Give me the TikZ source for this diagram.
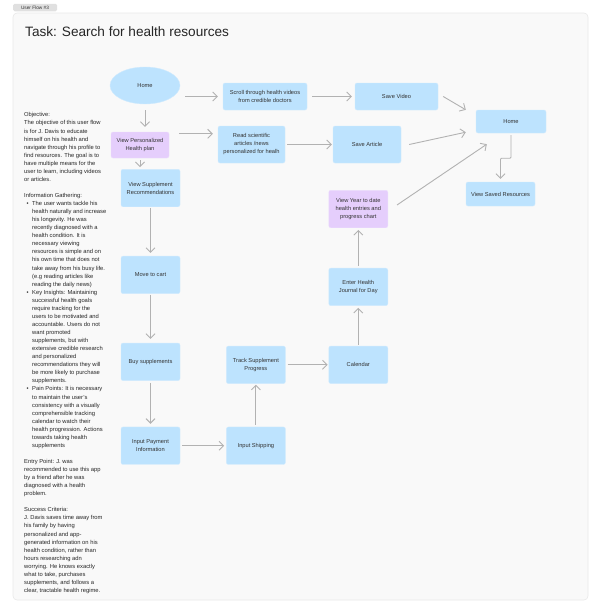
\documentclass[tikz,border=0pt]{standalone}
\usepackage{fontspec}
\setmainfont{Liberation Sans}
\usepackage{xcolor}
\usetikzlibrary{positioning,shapes.geometric,arrows.meta}

\definecolor{boxblue}{RGB}{189,227,254}
\definecolor{boxpurple}{RGB}{229,206,252}
\definecolor{linegray}{RGB}{178,178,178}
\definecolor{panelgray}{RGB}{249,249,249}
\definecolor{paneledge}{RGB}{232,232,232}
\definecolor{textgray}{RGB}{51,51,51}

\newcommand{\bul}{\makebox[8pt][l]{\hspace{2.5pt}•}}
\newcommand{\ind}{\hspace*{8pt}}

\begin{document}
\begin{tikzpicture}[x=1pt, y=-1pt,
    flowbox/.style={fill=boxblue, draw=boxblue!70!white, line width=0.4pt, rounded corners=2pt, inner sep=0pt, minimum width=59pt, minimum height=37.5pt, align=center, text=textgray, font=\fontsize{5.7}{8}\selectfont},
    purplebox/.style={flowbox, fill=boxpurple, draw=boxpurple!70!white},
    link/.style={draw=linegray, line width=0.9pt, -{Straight Barb[length=4.5pt,width=9pt]}}]

    \useasboundingbox (0,0) rectangle (600,613);

    % frame
    \draw [fill=panelgray, draw=paneledge, line width=0.6pt, rounded corners=4pt] (13,13) rectangle (588,600);
    \node (tag) [fill=black!12, rounded corners=1.5pt, inner sep=0pt, minimum width=44pt, minimum height=7.5pt, font=\fontsize{4.75}{5}\selectfont, text=textgray] at (35,7.5) {User Flow \#3};
    \node (title) [anchor=base west, inner sep=0pt, font=\fontsize{13.6}{16}\selectfont, text=black!85] at (25,36) {Task: Search for health resources};

    % notes
    \node (notes) [anchor=north west, inner sep=0pt, align=left, text=black!85, font=\fontsize{5.8}{8.06}\selectfont] at (24,112.5) {Objective:\\
        The objective of this user flow\\
        is for J. Davis to educate\\
        himself on his health and\\
        navigate through his profile to\\
        find resources. The goal is to\\
        have multiple means for the\\
        user to learn, including videos\\
        or articles.\\[8.06pt]
        Information Gathering:\\
        \bul The user wants tackle his\\
        \ind health naturally and increase\\
        \ind his longevity. He was\\
        \ind recently diagnosed with a\\
        \ind health condition. It is\\
        \ind necessary viewing\\
        \ind resources is simple and on\\
        \ind his own time that does not\\
        \ind take away from his busy life.\\
        \ind (e.g reading articles like\\
        \ind reading the daily news)\\
        \bul Key Insights: Maintaining\\
        \ind successful health goals\\
        \ind require tracking for the\\
        \ind users to be motivated and\\
        \ind accountable. Users do not\\
        \ind want promoted\\
        \ind supplements, but with\\
        \ind extensive credible research\\
        \ind and personalized\\
        \ind recommendations they will\\
        \ind be more likely to purchase\\
        \ind supplements.\\
        \bul Pain Points: It is necessary\\
        \ind to maintain the user's\\
        \ind consistency with a visually\\
        \ind comprehensible tracking\\
        \ind calendar to watch their\\
        \ind health progression. Actions\\
        \ind towards taking health\\
        \ind supplements\\[8.06pt]
        Entry Point: J. was\\
        recommended to use this app\\
        by a friend after he was\\
        diagnosed with a health\\
        problem.\\[8.06pt]
        Success Criteria:\\
        J. Davis saves time away from\\
        his family by having\\
        personalized and app-\\
        generated information on his\\
        health condition, rather than\\
        hours researching adn\\
        worrying. He knows exactly\\
        what to take, purchases\\
        supplements, and follows a\\
        clear, tractable health regime.};

    % top rows
    \node (home) [flowbox, ellipse, rounded corners=0pt, minimum width=70pt, minimum height=37pt] at (145,85.5) {Home};
    \node (scroll) [flowbox, minimum width=84pt, minimum height=27pt] at (265,96.5) {Scroll through health videos\\from credible doctors};
    \node (video) [flowbox, minimum width=83pt, minimum height=27pt] at (396.5,96.5) {Save Video};
    \node (plan) [purplebox, minimum width=58pt, minimum height=26pt] at (140,145) {View Personalized\\Health plan};
    \node (read) [flowbox, minimum width=67pt, minimum height=37pt] at (251.5,144.5) {Read scientific\\articles /news\\personalized for healh};
    \node (article) [flowbox, minimum width=68pt, minimum height=37pt] at (367,144.5) {Save Article};
    \node (home2) [flowbox, minimum width=70pt, minimum height=23pt] at (511,121.5) {Home};
    \node (saved) [flowbox, minimum width=69pt, minimum height=24pt] at (500.5,194) {View Saved Resources};

    % supplement flow
    \node (recs) [flowbox] at (150.5,188) {View Supplement\\Recommendations};
    \node (cart) [flowbox, below=49pt of recs] {Move to cart};
    \node (buy) [flowbox, below=49pt of cart] {Buy supplements};
    \node (pay) [flowbox, below=46pt of buy] {Input Payment\\Information};
    \node (ship) [flowbox, right=46pt of pay] {Input Shipping};
    \node (track) [flowbox, above=43pt of ship] {Track Supplement\\Progress};
    \node (cal) [flowbox, right=43pt of track] {Calendar};
    \node (journal) [flowbox, above=40pt of cal] {Enter Health\\Journal for Day};
    \node (year) [purplebox, above=40pt of journal] {View Year to date\\health entries and\\progress chart};

    \coordinate (planout) at ([yshift=-2pt]plan.north east);

    \draw [link, shorten <=5pt, shorten >=5pt] (home.east |- scroll) -- (scroll);
    \draw [link, shorten <=6pt, shorten >=5pt] (home.south) -- (home.south |- plan.north);
    \draw [link, shorten <=10pt, shorten >=5pt] (planout) -- (read.west |- planout);
    \draw [link, shorten <=2pt, shorten >=2pt] (plan.south) -- (plan.south |- recs.north);
    \draw [link, shorten <=5pt, shorten >=3pt] (scroll) -- (video);
    \draw [link, shorten <=2pt, shorten >=1pt] (read) -- (article);
    \draw [link] ([xshift=5pt]video.east) -- ([xshift=-10pt]home2.north west);
    \draw [link] ([xshift=8pt]article.east) -- ([xshift=-10pt,yshift=1pt]home2.south west);
    \draw [link] ([xshift=9pt,yshift=4pt]year.east) -- ([xshift=11pt,yshift=-11pt]home2.south west);
    \draw [link, rounded corners=1pt, shorten <=2pt, shorten >=3pt] (home2.south) -- ++(0pt,-25pt) -| (saved.north);

    \draw [link, shorten <=1pt, shorten >=3pt] (recs) -- (cart);
    \draw [link, shorten <=1pt, shorten >=4pt] (cart) -- (buy);
    \draw [link, shorten <=2pt, shorten >=3pt] (buy) -- (pay);
    \draw [link, shorten <=2pt, shorten >=2pt] (pay) -- (ship);
    \draw [link, shorten <=2pt, shorten >=1pt] (ship) -- (track);
    \draw [link, shorten <=2pt, shorten >=1pt] (track) -- (cal);
    \draw [link, shorten <=1pt, shorten >=2pt] (cal) -- (journal);
    \draw [link, shorten <=2pt, shorten >=2pt] (journal) -- (year);

\end{tikzpicture}
\end{document}
